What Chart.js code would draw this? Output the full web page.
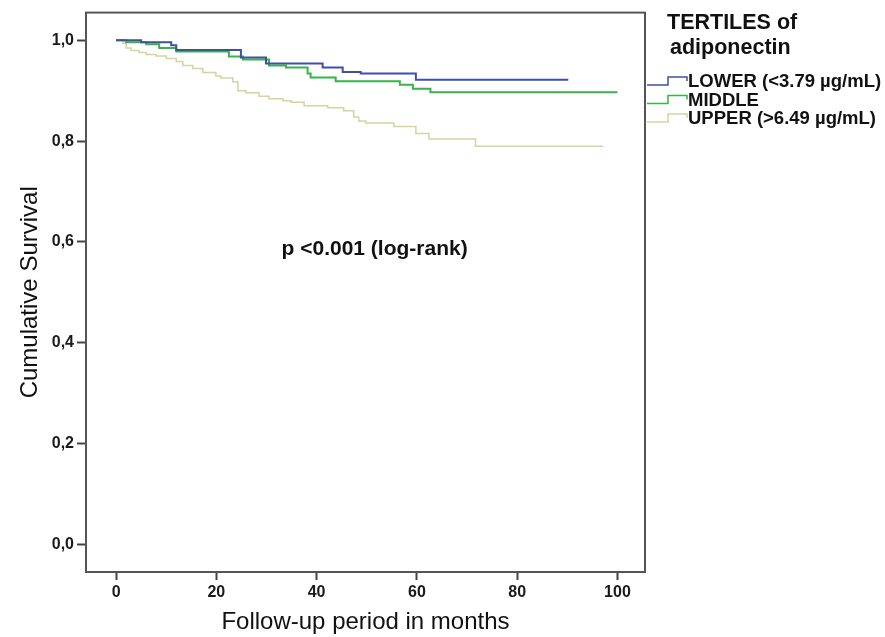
<!DOCTYPE html>
<html>
<head>
<meta charset="utf-8">
<script src="https://cdn.jsdelivr.net/npm/chart.js@4.4.1/dist/chart.umd.min.js"></script>
<style>
    html, body { margin: 0; padding: 0; background: #fff; }
    #wrap { width: 885px; height: 637px; }
</style>
</head>
<body>
<div id="wrap"><canvas id="kmChart" width="885" height="637"></canvas></div>
<script>
// Kaplan-Meier steps: month of each drop and the survival after it
const lowerTimes = [0, 5.0, 11.0, 12.0, 24.9, 29.9, 41.2, 45.2, 48.8, 59.8, 90.2];
const lowerSurv  = [1.0, 0.996, 0.990, 0.981, 0.966, 0.954, 0.946, 0.937, 0.934, 0.922, 0.922];

const middleTimes = [0, 2.0, 6.0, 8.6, 12.0, 22.5, 25.3, 30.5, 33.9, 38.2, 38.8, 43.8, 56.6, 59.2, 62.7, 100];
const middleSurv  = [1.0, 0.996, 0.992, 0.985, 0.978, 0.968, 0.962, 0.950, 0.946, 0.934, 0.926, 0.919, 0.912, 0.904, 0.897, 0.897];

const upperTimes = [0, 1.4, 2.0, 3.0, 4.6, 6.0, 8.0, 10.0, 12.0, 13.3, 15.3, 17.3, 19.9, 20.9, 23.3, 24.3, 25.9, 28.5,
                    30.5, 33.3, 34.9, 37.5, 42.2, 45.4, 47.4, 48.4, 49.8, 55.4, 59.8, 62.4, 71.7, 97.2];
const upperSurv  = [1.0, 0.994, 0.985, 0.980, 0.976, 0.972, 0.969, 0.964, 0.958, 0.950, 0.944, 0.936, 0.929, 0.925, 0.918, 0.900, 0.896, 0.889,
                    0.884, 0.880, 0.877, 0.870, 0.866, 0.860, 0.848, 0.840, 0.836, 0.829, 0.815, 0.804, 0.790, 0.790];

const seriesNames = ['LOWER (<3.79 µg/mL)', 'MIDDLE', 'UPPER (>6.49 µg/mL)'];
const seriesColors = ['#3f4fa3', '#38b348', '#d8d29e'];
const seriesWidths = [2, 2, 1.5];

const xTicks = [0, 20, 40, 60, 80, 100];
const yTicks = [0, 0.2, 0.4, 0.6, 0.8, 1.0];
const yTickLabels = ['0,0', '0,2', '0,4', '0,6', '0,8', '1,0'];

const legendTitle = ['TERTILES of', 'adiponectin'];
const testLabel = 'p <0.001 (log-rank)';

const FONT = '"Liberation Sans", Arial, sans-serif';

function toPoints(times, surv) {
    return times.map((t, i) => ({ x: t, y: surv[i] }));
}

const seriesData = [
    toPoints(lowerTimes, lowerSurv),
    toPoints(middleTimes, middleSurv),
    toPoints(upperTimes, upperSurv)
];

// Frame around the plot area
const framePlugin = {
    id: 'frame',
    beforeDatasetsDraw(chart) {
        const { ctx, chartArea: a } = chart;
        ctx.save();
        ctx.strokeStyle = '#555';
        ctx.lineWidth = 2;
        ctx.strokeRect(a.left, a.top, a.right - a.left, a.bottom - a.top);
        ctx.restore();
    }
};

// p-value note and the step-style legend on the right
const notesPlugin = {
    id: 'notes',
    afterDraw(chart) {
        const { ctx, scales } = chart;
        ctx.save();
        ctx.fillStyle = '#111';
        ctx.textBaseline = 'middle';
        ctx.textAlign = 'left';
        ctx.font = 'bold 21px ' + FONT;
        ctx.fillText(testLabel, scales.x.getPixelForValue(33), scales.y.getPixelForValue(0.585));

        ctx.font = 'bold 21.5px ' + FONT;
        ctx.fillText(legendTitle[0], 667, 23);
        ctx.fillText(legendTitle[1], 670, 48);

        ctx.font = 'bold 18.5px ' + FONT;
        seriesNames.forEach((name, i) => {
            const y = 81 + i * 18.5;
            ctx.strokeStyle = seriesColors[i];
            ctx.lineWidth = 1.5;
            ctx.beginPath();
            ctx.moveTo(647, y + 4);
            ctx.lineTo(668, y + 4);
            ctx.lineTo(668, y - 4);
            ctx.lineTo(687, y - 4);
            ctx.lineTo(687, y);
            ctx.stroke();
            ctx.fillStyle = '#111';
            ctx.fillText(name, 688, y + 1);
        });
        ctx.restore();
    }
};

new Chart(document.getElementById('kmChart'), {
    type: 'line',
    data: {
        datasets: seriesData.map((pts, i) => ({
            label: seriesNames[i],
            data: pts,
            borderColor: seriesColors[i],
            borderWidth: seriesWidths[i],
            stepped: true,
            pointRadius: 0,
            fill: false
        }))
    },
    options: {
        responsive: false,
        animation: false,
        devicePixelRatio: 1,
        layout: { padding: { left: 0, right: 240, top: 11, bottom: 0 } },
        plugins: {
            legend: { display: false },
            tooltip: { enabled: false }
        },
        scales: {
            x: {
                type: 'linear',
                min: -6,
                max: 105.5,
                afterBuildTicks: s => { s.ticks = xTicks.map(v => ({ value: v })); },
                afterFit: s => { s.height = 65; },
                border: { display: false },
                grid: { drawOnChartArea: false, drawTicks: true, tickLength: 8, tickColor: '#444', tickWidth: 2 },
                ticks: {
                    color: '#1a1a1a',
                    padding: 3,
                    maxRotation: 0,
                    font: { family: FONT, size: 16, weight: 'bold' }
                },
                title: {
                    display: true,
                    text: 'Follow-up period in months',
                    color: '#111',
                    padding: { top: 0, bottom: 0 },
                    font: { family: FONT, size: 24 }
                }
            },
            y: {
                min: -0.055,
                max: 1.055,
                afterBuildTicks: s => { s.ticks = yTicks.map(v => ({ value: v })); },
                afterFit: s => { s.width = 86; },
                border: { display: false },
                grid: { drawOnChartArea: false, drawTicks: true, tickLength: 9, tickColor: '#444', tickWidth: 2 },
                ticks: {
                    color: '#1a1a1a',
                    padding: 3,
                    callback: (v, i) => yTickLabels[i],
                    font: { family: FONT, size: 16, weight: 'bold' }
                },
                title: {
                    display: true,
                    text: 'Cumulative Survival',
                    color: '#111',
                    padding: { top: 16, bottom: 0 },
                    font: { family: FONT, size: 24 }
                }
            }
        }
    },
    plugins: [framePlugin, notesPlugin]
});
</script>
</body>
</html>
